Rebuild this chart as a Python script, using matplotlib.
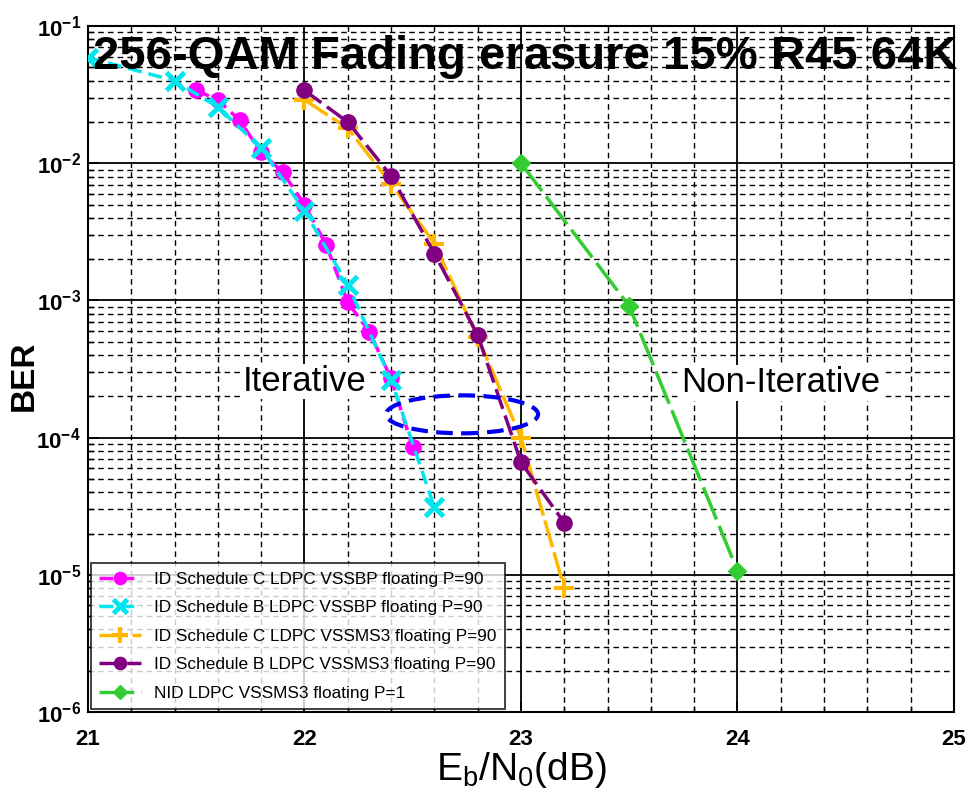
import numpy as np
import matplotlib.pyplot as plt
from matplotlib.patches import Ellipse
from matplotlib.ticker import LogLocator, NullFormatter, FixedLocator

# ID Schedule C LDPC VSSBP floating P=90
ebn0_c_bp = [21.5, 21.6, 21.7, 21.8, 21.9, 22.0, 22.1, 22.2, 22.3, 22.4, 22.5]
ber_c_bp = [3.4e-2, 2.9e-2, 2.06e-2, 1.2e-2, 8.6e-3, 5.0e-3, 2.55e-3, 9.7e-4, 5.9e-4, 2.7e-4, 8.5e-5]
# ID Schedule B LDPC VSSBP floating P=90
ebn0_b_bp = [21.0, 21.4, 21.6, 21.8, 22.0, 22.2, 22.4, 22.6]
ber_b_bp = [5.9e-2, 4.0e-2, 2.57e-2, 1.29e-2, 4.5e-3, 1.3e-3, 2.65e-4, 3.1e-5]
# ID Schedule C LDPC VSSMS3 floating P=90
ebn0_c_ms = [22.0, 22.2, 22.4, 22.6, 22.8, 23.0, 23.2]
ber_c_ms = [2.9e-2, 1.8e-2, 7.1e-3, 2.6e-3, 5.4e-4, 1.0e-4, 8.0e-6]
# ID Schedule B LDPC VSSMS3 floating P=90
ebn0_b_ms = [22.0, 22.2, 22.4, 22.6, 22.8, 23.0, 23.2]
ber_b_ms = [3.4e-2, 2.0e-2, 8.1e-3, 2.2e-3, 5.6e-4, 6.6e-5, 2.4e-5]
# NID LDPC VSSMS3 floating P=1
ebn0_nid = [23.0, 23.5, 24.0]
ber_nid = [1.0e-2, 9.1e-4, 1.07e-5]

labels = ["ID Schedule C LDPC VSSBP floating P=90",
          "ID Schedule B LDPC VSSBP floating P=90",
          "ID Schedule C LDPC VSSMS3 floating P=90",
          "ID Schedule B LDPC VSSMS3 floating P=90",
          "NID LDPC VSSMS3 floating P=1"]

plt.rcParams['font.family'] = ['Liberation Sans', 'DejaVu Sans']

fig = plt.figure(figsize=(9.69, 7.92), dpi=100)
ax = fig.add_axes([0.0908, 0.101, 0.8937, 0.866])

ax.plot(ebn0_c_bp, ber_c_bp, color='#ff00ff', ls=(0, (4, 2)), lw=2.5,
        marker='o', ms=11, label=labels[0], zorder=4)
ax.plot(ebn0_b_bp, ber_b_bp, color='#00e5ee', ls=(0, (4, 2)), lw=2.5,
        marker='x', ms=13, mew=3.5, label=labels[1], zorder=5)
ax.plot(ebn0_c_ms, ber_c_ms, color='#ffb700', ls=(0, (8, 1.5)), lw=2.5,
        marker='+', ms=15, mew=3, label=labels[2], zorder=4)
ax.plot(ebn0_b_ms, ber_b_ms, color='#800080', ls=(0, (6, 2)), lw=2.5,
        marker='o', ms=11, label=labels[3], zorder=5)
ax.plot(ebn0_nid, ber_nid, color='#33cc33', ls=(0, (10, 2)), lw=2.5,
        marker='D', ms=9, label=labels[4], zorder=4)

ax.set_yscale('log')
ax.set_xlim(21, 25)
ax.set_ylim(1e-6, 1e-1)

ax.xaxis.set_major_locator(FixedLocator([21, 22, 23, 24, 25]))
ax.xaxis.set_minor_locator(FixedLocator(np.arange(21.2, 25, 0.2)))
ax.yaxis.set_major_locator(LogLocator(base=10, numticks=10))
ax.yaxis.set_minor_locator(LogLocator(base=10, subs=np.arange(2, 10), numticks=20))
ax.yaxis.set_minor_formatter(NullFormatter())

ax.grid(which='major', color='black', lw=1.3, ls='-')
ax.grid(which='minor', color='black', lw=1.0, ls=(0, (4, 3)))
ax.tick_params(which='both', direction='in', top=False, right=False)
ax.tick_params(which='major', length=7, width=1.3, labelsize=16)
ax.tick_params(axis='x', which='major', pad=12)
ax.tick_params(axis='y', which='major', pad=5)
ax.tick_params(which='minor', length=4, width=1.0)
for lbl in ax.get_xticklabels() + ax.get_yticklabels():
    lbl.set_fontweight('bold')
for s in ax.spines.values():
    s.set_linewidth(1.5)

ax.set_xlabel(r'E$_\mathregular{b}$/N$_\mathregular{0}$(dB)', fontsize=28, labelpad=0)
ax.set_ylabel('BER', fontsize=24, fontweight='bold', va='center')
ax.yaxis.set_label_coords(-0.074, 0.49)

ax.text(0.505, 0.955, '256-QAM Fading erasure 15% R45 64K', transform=ax.transAxes,
        ha='center', va='center', fontsize=34, fontweight='bold', zorder=6)
ax.text(0.25, 0.482, 'Iterative', transform=ax.transAxes, ha='center', va='center',
        fontsize=25, zorder=6, bbox=dict(facecolor='white', edgecolor='none', pad=1))
ax.text(0.80, 0.480, 'Non-Iterative', transform=ax.transAxes, ha='center', va='center',
        fontsize=25, zorder=6, bbox=dict(facecolor='white', edgecolor='none', pad=1))

ax.add_patch(Ellipse((0.432, 0.434), 0.1755, 0.0554, transform=ax.transAxes,
                     fill=False, edgecolor='#0000ee', lw=3, ls=(0, (4, 2)), zorder=6))

leg = ax.legend(loc='lower left', fontsize=12.4, frameon=True, fancybox=False,
                borderaxespad=0.15, handlelength=2.4, handletextpad=0.8,
                labelspacing=0.78, markerscale=0.8, borderpad=0.5)
leg.get_frame().set_edgecolor('black')
leg.get_frame().set_linewidth(1.3)
leg.set_zorder(7)

fig.savefig('out.png', dpi=100)
